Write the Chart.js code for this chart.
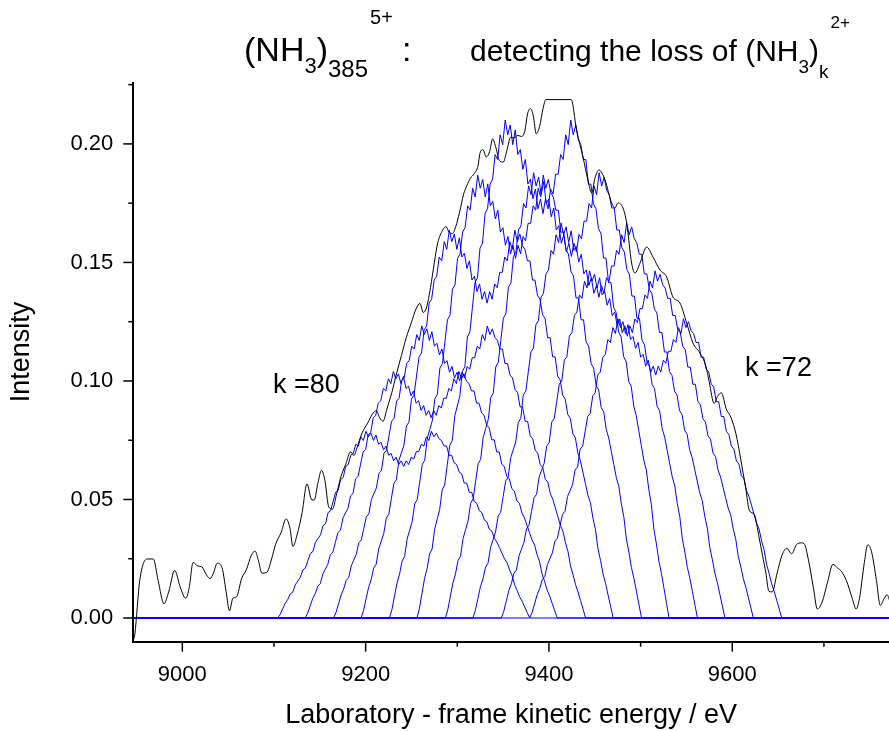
<!DOCTYPE html>
<html>
<head>
<meta charset="utf-8">
<title>(NH3)385 5+ : loss of (NH3)k 2+</title>
<script src="https://cdn.jsdelivr.net/npm/chart.js@4.4.1/dist/chart.umd.min.js"></script>
<style>
  html, body { margin: 0; padding: 0; background: #fff; }
  #wrap { position: relative; width: 889px; height: 731px; font-family: "Liberation Sans", Arial, sans-serif; color: #000; }
  #wrap canvas { position: absolute; left: 0; top: 0; }
  .title { position: absolute; line-height: 1; white-space: pre; }
  .title span { line-height: 1; position: relative; }
</style>
</head>
<body>
<div id="wrap">
  <canvas id="chart" width="889" height="731"></canvas>
  <div class="title" style="left:244px; top:32px; font-size:34px">(NH<span style="font-size:22px; top:12px">3</span>)<span style="font-size:24px; top:16px">385</span><span style="font-size:20px; top:-37px; margin-left:2px">5+</span><span style="margin-left:9px">:</span></div>
  <div class="title" style="left:470px; top:36px; font-size:30px">detecting the loss of (NH<span style="font-size:19px; top:12px">3</span>)<span style="font-size:19px; top:17px">k</span><span style="font-size:17px; top:-33px; margin-left:2px">2+</span></div>
</div>

<script>
// Axis ranges
const X_MIN = 8946.5;
const X_MAX = 9771;
const Y_MIN = -0.0100;
const Y_MAX = 0.2257;

const xTickValues = [9000, 9100, 9200, 9300, 9400, 9500, 9600, 9700];
const yTickValues = [0, 0.025, 0.05, 0.075, 0.10, 0.125, 0.15, 0.175, 0.20, 0.225];

// Measured total signal (black trace)
const totalEnergy = [
  8947.0, 8948.2, 8953.5, 8961.5, 8968.3, 8973.6, 8980.0, 8985.3, 8991.6, 8997.9,
  9003.8, 9007.5, 9011.7, 9017.0, 9021.2, 9026.5, 9030.2, 9033.9, 9038.1, 9043.4,
  9047.7, 9051.4, 9055.1, 9059.3, 9064.6, 9069.9, 9075.2, 9079.4, 9083.1, 9086.8,
  9092.1, 9097.4, 9101.6, 9107.9, 9113.2, 9117.5, 9120.6, 9125.4, 9130.7, 9136.0,
  9141.3, 9143.9, 9148.1, 9151.8, 9155.5, 9159.8, 9164.0, 9167.7, 9173.0, 9178.3,
  9183.6, 9187.3, 9190.4, 9195.7, 9202.1, 9207.4, 9211.6, 9215.3, 9219.0, 9223.2,
  9228.5, 9233.8, 9239.1, 9244.4, 9249.7, 9255.0, 9259.2, 9262.9, 9266.6, 9270.8,
  9275.0, 9278.7, 9284.0, 9287.7, 9290.9, 9294.6, 9298.3, 9302.5, 9306.8, 9310.5,
  9314.2, 9318.4, 9322.6, 9324.7, 9327.9, 9331.6, 9335.3, 9338.5, 9342.2, 9345.9,
  9350.1, 9354.3, 9358.1, 9361.8, 9366.0, 9370.2, 9373.9, 9376.6, 9379.7, 9382.9,
  9386.1, 9389.8, 9393.5, 9396.7, 9424.2, 9430.2, 9437.1, 9442.5, 9446.6, 9450.2,
  9454.6, 9461.1, 9468.4, 9472.0, 9475.3, 9480.7, 9484.8, 9490.2, 9493.8, 9499.3,
  9506.6, 9513.5, 9521.1, 9528.4, 9535.3, 9542.9, 9550.2, 9557.1, 9564.7, 9571.2,
  9574.9, 9580.2, 9583.9, 9588.1, 9593.4, 9598.7, 9604.0, 9609.2, 9614.5, 9618.8,
  9624.0, 9629.3, 9633.0, 9636.7, 9639.9, 9643.6, 9648.9, 9654.2, 9659.5, 9664.8,
  9670.0, 9675.3, 9679.1, 9683.3, 9688.5, 9692.8, 9698.1, 9704.4, 9709.7, 9715.0,
  9719.2, 9724.5, 9730.9, 9735.1, 9738.8, 9744.1, 9747.8, 9752.0, 9757.3, 9761.5,
  9765.8, 9768.9, 9772.1
];
const totalIntensity = [
  -0.0090, -0.0068, 0.0158, 0.0249, 0.0249, 0.0158, 0.0060, 0.0113, 0.0201, 0.0128,
  0.0083, 0.0128, 0.0234, 0.0219, 0.0216, 0.0181, 0.0166, 0.0189, 0.0231, 0.0211,
  0.0113, 0.0030, 0.0083, 0.0090, 0.0166, 0.0204, 0.0264, 0.0282, 0.0241, 0.0189,
  0.0192, 0.0249, 0.0309, 0.0362, 0.0418, 0.0377, 0.0302, 0.0354, 0.0445, 0.0566,
  0.0498, 0.0498, 0.0573, 0.0623, 0.0581, 0.0468, 0.0460, 0.0513, 0.0596, 0.0649,
  0.0701, 0.0686, 0.0716, 0.0777, 0.0822, 0.0860, 0.0875, 0.0845, 0.0830, 0.0882,
  0.0950, 0.1033, 0.1108, 0.1184, 0.1244, 0.1304, 0.1327, 0.1289, 0.1312, 0.1395,
  0.1501, 0.1583, 0.1636, 0.1651, 0.1629, 0.1621, 0.1651, 0.1712, 0.1787, 0.1825,
  0.1855, 0.1874, 0.1908, 0.1960, 0.1976, 0.1945, 0.1968, 0.2021, 0.1983, 0.1930,
  0.1923, 0.1976, 0.2028, 0.2025, 0.2036, 0.2031, 0.2059, 0.2126, 0.2149, 0.2119,
  0.2043, 0.2074, 0.2149, 0.2187, 0.2187, 0.2058, 0.1945, 0.1848, 0.1793, 0.1856,
  0.1890, 0.1848, 0.1751, 0.1730, 0.1751, 0.1730, 0.1666, 0.1497, 0.1455, 0.1497,
  0.1565, 0.1523, 0.1468, 0.1439, 0.1354, 0.1329, 0.1245, 0.1160, 0.1118, 0.1063,
  0.0995, 0.0905, 0.0935, 0.0950, 0.0882, 0.0845, 0.0777, 0.0671, 0.0551, 0.0452,
  0.0437, 0.0339, 0.0264, 0.0189, 0.0113, 0.0110, 0.0189, 0.0264, 0.0294, 0.0271,
  0.0309, 0.0317, 0.0309, 0.0241, 0.0128, 0.0038, 0.0068, 0.0158, 0.0226, 0.0211,
  0.0196, 0.0158, 0.0083, 0.0038, 0.0083, 0.0234, 0.0309, 0.0279, 0.0158, 0.0053,
  0.0083, 0.0098, 0.0068
];

// Fragment peaks (blue): all share one measured shape, shifted and scaled.
// onset = energy where each curve leaves the baseline, height = its top value
const fragmentOnsets = [9104, 9134, 9165, 9195, 9226, 9256, 9287, 9317, 9348, 9379];
const fragmentHeights = [0.078, 0.103, 0.122, 0.162, 0.185, 0.208, 0.186, 0.165, 0.145, 0.125];
const SHAPE_STEP = 2.75; // eV between shape samples (275 eV wide)
const peakShape = [
  0, 0.02, 0.05, 0.08, 0.10, 0.13, 0.14, 0.18, 0.20, 0.22,
  0.26, 0.27, 0.31, 0.35, 0.36, 0.41, 0.43, 0.45, 0.50, 0.51,
  0.57, 0.58, 0.63, 0.68, 0.69, 0.75, 0.76, 0.82, 0.83, 0.88,
  0.89, 0.94, 0.93, 0.98, 0.96, 1.01, 0.98, 1.00, 0.96, 0.99,
  0.94, 0.95, 0.91, 0.93, 0.88, 0.89, 0.85, 0.87, 0.83, 0.85,
  0.82, 0.85, 0.83, 0.87, 0.86, 0.90, 0.90, 0.94, 0.93, 0.98,
  0.96, 1.01, 0.98, 1.00, 0.97, 0.96, 0.93, 0.93, 0.88, 0.88,
  0.84, 0.83, 0.79, 0.78, 0.73, 0.73, 0.68, 0.68, 0.63, 0.62,
  0.58, 0.57, 0.53, 0.52, 0.48, 0.47, 0.43, 0.41, 0.38, 0.35,
  0.32, 0.30, 0.26, 0.23, 0.18, 0.15, 0.115, 0.09, 0.06, 0.03,
  0
];

const FONT = '"Liberation Sans", Arial, sans-serif';

function buildTotal() {
  return totalEnergy.map((e, i) => ({ x: e, y: totalIntensity[i] }));
}

function buildFragment(i) {
  const pts = [{ x: X_MIN, y: 0 }];
  peakShape.forEach((s, j) => {
    pts.push({ x: fragmentOnsets[i] + j * SHAPE_STEP, y: fragmentHeights[i] * s });
  });
  pts.push({ x: X_MAX, y: 0 });
  return pts;
}

const datasets = [{
  label: 'total',
  data: buildTotal(),
  borderColor: '#000000',
  borderWidth: 1,
  cubicInterpolationMode: 'monotone',
  order: 0
}];
fragmentOnsets.forEach((_, i) => {
  datasets.push({
    label: 'fragment ' + (i + 1),
    data: buildFragment(i),
    borderColor: '#0000ff',
    borderWidth: 1,
    tension: 0,
    order: 1
  });
});

// Major/minor tick marks, k labels and axis titles
const decor = {
  id: 'decor',
  afterDraw(chart) {
    const { ctx, chartArea } = chart;
    const x = chart.scales.x;
    const y = chart.scales.y;
    ctx.save();
    ctx.strokeStyle = '#000';
    ctx.lineWidth = 1.5;
    x.ticks.forEach((t, i) => {
      const px = x.getPixelForValue(t.value);
      const len = i % 2 === 0 ? 10 : 5;
      ctx.beginPath();
      ctx.moveTo(px, chartArea.bottom);
      ctx.lineTo(px, chartArea.bottom + len);
      ctx.stroke();
    });
    y.ticks.forEach((t, i) => {
      const py = y.getPixelForValue(t.value);
      const len = i % 2 === 0 ? 10 : 5;
      ctx.beginPath();
      ctx.moveTo(chartArea.left, py);
      ctx.lineTo(chartArea.left - len, py);
      ctx.stroke();
    });

    ctx.fillStyle = '#000';
    ctx.font = '27px ' + FONT;
    ctx.textAlign = 'left';
    ctx.textBaseline = 'alphabetic';
    ctx.fillText('k =80', x.getPixelForValue(9099), y.getPixelForValue(0.0950));
    ctx.fillText('k =72', x.getPixelForValue(9614), y.getPixelForValue(0.1020));

    ctx.font = '27px ' + FONT;
    ctx.textAlign = 'center';
    ctx.textBaseline = 'middle';
    ctx.fillText('Laboratory - frame kinetic energy / eV', (chartArea.left + chartArea.right) / 2, 716);
    ctx.translate(22, 352);
    ctx.rotate(-Math.PI / 2);
    ctx.fillText('Intensity', 0, 0);
    ctx.restore();
  }
};

new Chart(document.getElementById('chart'), {
  type: 'line',
  data: { datasets: datasets },
  options: {
    responsive: false,
    animation: false,
    devicePixelRatio: 1,
    layout: { padding: { top: 83, left: 0, right: 0, bottom: 0 } },
    elements: { point: { radius: 0 } },
    plugins: {
      legend: { display: false },
      tooltip: { enabled: false },
      title: { display: false }
    },
    scales: {
      x: {
        type: 'linear',
        min: X_MIN,
        max: X_MAX,
        afterBuildTicks: s => { s.ticks = xTickValues.map(v => ({ value: v })); },
        afterFit: s => { s.height = 89.3; },
        grid: { display: false },
        border: { display: true, color: '#000', width: 2 },
        ticks: {
          autoSkip: false,
          maxRotation: 0,
          padding: 12,
          color: '#000',
          font: { family: FONT, size: 22 },
          callback: (v, i) => (i % 2 === 0 ? String(v) : '')
        }
      },
      y: {
        min: Y_MIN,
        max: Y_MAX,
        afterBuildTicks: s => { s.ticks = yTickValues.map(v => ({ value: v })); },
        afterFit: s => { s.width = 133.3; },
        grid: { display: false },
        border: { display: true, color: '#000', width: 2 },
        ticks: {
          autoSkip: false,
          padding: 12,
          color: '#000',
          font: { family: FONT, size: 22 },
          callback: (v, i) => (i % 2 === 0 ? Number(v).toFixed(2) : '')
        }
      }
    }
  },
  plugins: [decor]
});
</script>
</body>
</html>
